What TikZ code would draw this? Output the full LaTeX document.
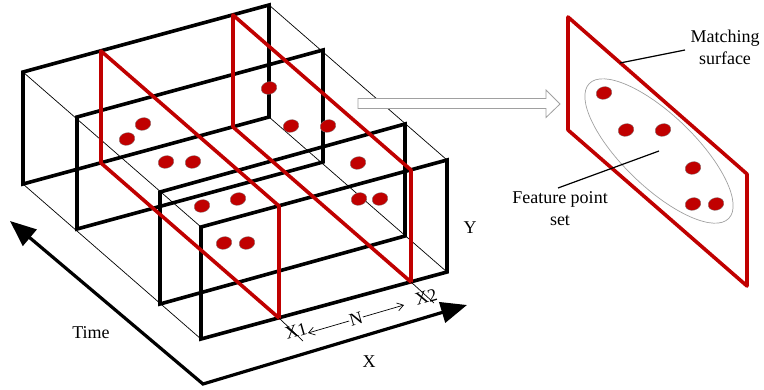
\documentclass[tikz,border=0pt]{standalone}
\usepackage{fontspec}
\setmainfont{Liberation Serif}
\usetikzlibrary{shapes.geometric,arrows.meta}
\definecolor{dred}{RGB}{192,0,0}
\definecolor{lgrey}{RGB}{160,160,160}
\tikzset{
  thinedge/.style={line width=0.7pt, black},
  frameline/.style={line width=3.6pt, black, line join=miter},
  redplane/.style={line width=3.6pt, dred, line join=round, line cap=round},
  fdot/.style={ellipse, fill=dred, draw=gray, line width=0.3pt, minimum width=16pt, minimum height=12.5pt, inner sep=0pt, rotate=15},
  lbl/.style={font=\fontsize{18}{22}\selectfont, inner sep=1pt},
  axisline/.style={line width=3.2pt, black, line join=miter},
}
\begin{document}
\begin{tikzpicture}[x=1pt,y=-1pt]
\useasboundingbox (0,0) rectangle (764,389);
% frame corners
\coordinate (A1) at (23,72);  \coordinate (A2) at (269,5);   \coordinate (A3) at (269,117); \coordinate (A4) at (23,184);
\coordinate (B1) at (77,117); \coordinate (B2) at (323,50);  \coordinate (B3) at (323,162); \coordinate (B4) at (77,229);
\coordinate (C1) at (160,192);\coordinate (C2) at (405,124); \coordinate (C3) at (405,236); \coordinate (C4) at (160,304);
\coordinate (D1) at (201,227);\coordinate (D2) at (447,160); \coordinate (D3) at (447,272); \coordinate (D4) at (201,339);
% thin depth edges
\draw[thinedge] (A1) -- (D1);
\draw[thinedge] (A2) -- (D2);
\draw[thinedge] (A3) -- (D3);
\draw[thinedge] (A4) -- (D4);
% frames
\draw[frameline] (A1) -- (A2) -- (A3) -- (A4) -- cycle;
\draw[frameline] (B1) -- (B2) -- (B3) -- (B4) -- cycle;
\draw[frameline] (C1) -- (C2) -- (C3) -- (C4) -- cycle;
\draw[frameline] (D1) -- (D2) -- (D3) -- (D4) -- cycle;
% red planes
\coordinate (P1a) at (101,51);  \coordinate (P1b) at (279,206); \coordinate (P1c) at (279,318); \coordinate (P1d) at (101,163);
\coordinate (P2a) at (233,15);  \coordinate (P2b) at (411,170); \coordinate (P2c) at (411,282); \coordinate (P2d) at (233,127);
\draw[redplane] (P1a) -- (P1b) -- (P1c) -- (P1d) -- cycle;
\draw[redplane] (P2a) -- (P2b) -- (P2c) -- (P2d) -- cycle;
% dots
\node[fdot] (d1) at (269,88) {};
\node[fdot] (d2) at (143,124) {};
\node[fdot] (d3) at (127,139) {};
\node[fdot] (d4) at (166,162) {};
\node[fdot] (d5) at (193,162) {};
\node[fdot] (d6) at (291,126) {};
\node[fdot] (d7) at (328,126) {};
\node[fdot] (d8) at (358,163) {};
\node[fdot] (d9) at (202,206) {};
\node[fdot] (d10) at (238,199) {};
\node[fdot] (d11) at (359,199) {};
\node[fdot] (d12) at (380,199) {};
\node[fdot] (d13) at (224,243) {};
\node[fdot] (d14) at (247,243) {};
% ticks at X1, X2
\coordinate (T1) at (303,341);
\coordinate (T2) at (434,303);
\draw[thinedge] (P1c) -- (T1);
\draw[thinedge] (P2c) -- (T2);
% axes
\coordinate (O) at (203,384);
\coordinate (Tt) at (10,221);
\coordinate (Xt) at (467,305);
\draw[axisline, {Triangle[length=26pt,width=21pt]}-{Triangle[length=26pt,width=21pt]}] (Tt) -- (O) -- (Xt);
% labels
\node[lbl] (time) at (91,333) {Time};
\node[lbl] (xlab) at (369,362) {X};
\node[lbl] (ylab) at (470,228) {Y};
\node[lbl, rotate=16] (x1) at (296,331) {X1};
\node[lbl, rotate=16] (x2) at (426,297) {X2};
\coordinate (Na) at (308,333);
\coordinate (Nb) at (404,305);
\draw[thinedge, {Straight Barb[length=6pt,width=8pt]}-{Straight Barb[length=6pt,width=8pt]}] (Na) -- node[lbl, fill=white, rotate=16, inner sep=0.5pt] (nlab) {N} (Nb);
% hollow arrow
\draw[lgrey, line width=0.8pt, fill=white, line join=miter] (358,98.5) coordinate (HA) -- (546,98.5) -- (546,90) -- (560,104) coordinate (HB) -- (546,117.5) -- (546,108.5) -- (358,108.5) -- cycle;
% matching surface
\coordinate (M1) at (568,17); \coordinate (M2) at (747,174); \coordinate (M3) at (747,286); \coordinate (M4) at (568,130);
\draw[redplane] (M1) -- (M2) -- (M3) -- (M4) -- cycle;
\coordinate (EC) at (659,151);
\draw[lgrey, line width=0.7pt, rotate around={-44:(EC)}] (EC) ellipse [x radius=97pt, y radius=36pt];
\node[fdot] (e1) at (604,93) {};
\node[fdot] (e2) at (626,130) {};
\node[fdot] (e3) at (663,130) {};
\node[fdot] (e4) at (693,168) {};
\node[fdot] (e5) at (693,204) {};
\node[fdot] (e6) at (716,204) {};
% callouts
\node[lbl, align=center] (match) at (725,47) {Matching\\surface};
\node[lbl, align=center] (feat) at (560,209) {Feature point\\set};
\coordinate (m0) at (620,63);
\coordinate (m1) at (685,50);
\draw[line width=1.2pt] (m0) -- (m1);
\coordinate (f0) at (659,151);
\coordinate (f1) at (558,188);
\draw[line width=1.2pt] (f0) -- (f1);
\end{tikzpicture}
\end{document}
